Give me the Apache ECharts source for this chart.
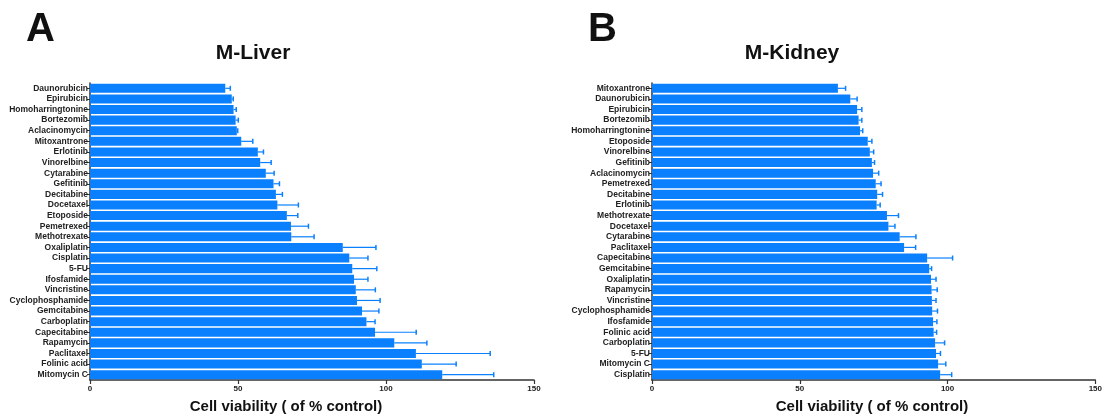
<!DOCTYPE html>
<html>
<head>
<meta charset="utf-8">
<script src="https://cdn.jsdelivr.net/npm/echarts@6/dist/echarts.min.js"></script>
<style>
  html, body { margin: 0; padding: 0; background: #fff; }
  #main { width: 1105px; height: 419px; }
</style>
</head>
<body>
<div id="main"></div>
<script>
// M-Liver (panel A), top to bottom
var liverNames = ['Daunorubicin', 'Epirubicin', 'Homoharringtonine', 'Bortezomib', 'Aclacinomycin',
  'Mitoxantrone', 'Erlotinib', 'Vinorelbine', 'Cytarabine', 'Gefitinib', 'Decitabine', 'Docetaxel',
  'Etoposide', 'Pemetrexed', 'Methotrexate', 'Oxaliplatin', 'Cisplatin', '5-FU', 'Ifosfamide',
  'Vincristine', 'Cyclophosphamide', 'Gemcitabine', 'Carboplatin', 'Capecitabine', 'Rapamycin',
  'Paclitaxel', 'Folinic acid', 'Mitomycin C'];
var liverMean = [45.7, 47.9, 48.5, 49.2, 49.6, 51.1, 56.7, 57.5, 59.4, 62.0, 62.8, 63.3,
  66.5, 67.9, 68.0, 85.4, 87.6, 88.6, 89.2, 89.8, 90.2, 91.9, 93.4, 96.3, 102.8,
  110.1, 112.1, 119.0];
var liverSd = [1.7, 0.5, 0.9, 0.9, 0.3, 3.9, 1.9, 3.7, 2.8, 2.0, 2.2, 7.1,
  3.7, 5.9, 7.7, 11.2, 6.3, 8.3, 4.7, 6.6, 7.8, 5.7, 2.9, 13.9, 11.0,
  25.1, 11.6, 17.4];

// M-Kidney (panel B), top to bottom
var kidneyNames = ['Mitoxantrone', 'Daunorubicin', 'Epirubicin', 'Bortezomib', 'Homoharringtonine',
  'Etoposide', 'Vinorelbine', 'Gefitinib', 'Aclacinomycin', 'Pemetrexed', 'Decitabine', 'Erlotinib',
  'Methotrexate', 'Docetaxel', 'Cytarabine', 'Paclitaxel', 'Capecitabine', 'Gemcitabine',
  'Oxaliplatin', 'Rapamycin', 'Vincristine', 'Cyclophosphamide', 'Ifosfamide', 'Folinic acid',
  'Carboplatin', '5-FU', 'Mitomycin C', 'Cisplatin'];
var kidneyMean = [62.9, 67.1, 69.4, 69.9, 70.4, 73.0, 73.7, 74.4, 74.8, 75.7, 76.2, 76.0,
  79.5, 80.0, 83.8, 85.3, 93.1, 93.8, 94.4, 94.6, 94.7, 94.8, 95.1, 95.3,
  95.8, 96.1, 96.8, 97.5];
var kidneySd = [2.6, 2.3, 1.6, 1.1, 0.9, 1.4, 1.3, 0.9, 1.9, 1.8, 1.8, 1.2,
  3.9, 2.2, 5.5, 3.9, 8.6, 0.8, 1.7, 1.9, 1.4, 1.8, 1.3, 1.0,
  3.2, 1.5, 2.6, 3.9];

var xTicks = [0, 50, 100, 150];
var barColor = '#0a80ff';
var fontFam = '"Liberation Sans", Arial, sans-serif';

function errData(mean, sd) {
  return mean.map(function (m, i) { return [m, i, m + sd[i]]; });
}

function renderErr(params, api) {
  var lo = api.coord([api.value(0), api.value(1)]);
  var hi = api.coord([api.value(2), api.value(1)]);
  var c = 2.5;
  return {
    type: 'group',
    children: [
      { type: 'line', shape: { x1: lo[0], y1: lo[1], x2: hi[0], y2: hi[1] },
        style: { stroke: barColor, lineWidth: 1.2 } },
      { type: 'line', shape: { x1: hi[0], y1: hi[1] - c, x2: hi[0], y2: hi[1] + c },
        style: { stroke: barColor, lineWidth: 1.5 } }
    ]
  };
}

function xAxisCfg(idx) {
  return {
    type: 'value', gridIndex: idx, min: 0, max: 150, interval: 50,
    splitLine: { show: false },
    axisLine: { show: true, lineStyle: { color: '#333', width: 1.5 } },
    axisTick: { show: true, length: 4, lineStyle: { color: '#333', width: 1.2 } },
    axisLabel: { color: '#222', fontSize: 8, fontWeight: 'bold', fontFamily: fontFam, margin: 5,
      formatter: function (v) { return xTicks.indexOf(v) >= 0 ? String(v) : ''; } }
  };
}

function yAxisCfg(idx, names) {
  return {
    type: 'category', gridIndex: idx, data: names, inverse: true,
    axisLine: { show: true, lineStyle: { color: '#333', width: 1.5 } },
    axisTick: { show: true, alignWithLabel: true, interval: 0, length: 3, lineStyle: { color: '#333', width: 1 } },
    axisLabel: { interval: 0, color: '#222', fontSize: 8.5, fontWeight: 'bold', fontFamily: fontFam, margin: 2 }
  };
}

var chart = echarts.init(document.getElementById('main'), null, { renderer: 'canvas' });
chart.setOption({
  animation: false,
  backgroundColor: '#fff',
  title: [
    { text: 'A', left: 21, top: 5, textStyle: { fontSize: 40, fontWeight: 'bold', color: '#111', fontFamily: fontFam } },
    { text: 'B', left: 583, top: 5, textStyle: { fontSize: 40, fontWeight: 'bold', color: '#111', fontFamily: fontFam } },
    { text: 'M-Liver', left: 248, top: 38, textAlign: 'center', textStyle: { fontSize: 21, fontWeight: 'bold', color: '#111', fontFamily: fontFam } },
    { text: 'M-Kidney', left: 787, top: 38, textAlign: 'center', textStyle: { fontSize: 21, fontWeight: 'bold', color: '#111', fontFamily: fontFam } },
    { text: 'Cell viability ( of % control)', left: 281, top: 394, textAlign: 'center', textStyle: { fontSize: 15, fontWeight: 'bold', color: '#111', fontFamily: fontFam } },
    { text: 'Cell viability ( of % control)', left: 867, top: 394, textAlign: 'center', textStyle: { fontSize: 15, fontWeight: 'bold', color: '#111', fontFamily: fontFam } }
  ],
  grid: [
    { left: 90, right: 571, top: 83, bottom: 39, containLabel: false },
    { left: 652, right: 8, top: 83, bottom: 39, containLabel: false }
  ],
  xAxis: [xAxisCfg(0), xAxisCfg(1)],
  yAxis: [yAxisCfg(0, liverNames), yAxisCfg(1, kidneyNames)],
  series: [
    { name: 'M-Liver', type: 'bar', xAxisIndex: 0, yAxisIndex: 0, data: liverMean,
      barCategoryGap: '15%', itemStyle: { color: barColor } },
    { name: 'M-Liver SD', type: 'custom', xAxisIndex: 0, yAxisIndex: 0,
      data: errData(liverMean, liverSd), encode: { x: [0, 2], y: 1 }, renderItem: renderErr, z: 3 },
    { name: 'M-Kidney', type: 'bar', xAxisIndex: 1, yAxisIndex: 1, data: kidneyMean,
      barCategoryGap: '15%', itemStyle: { color: barColor } },
    { name: 'M-Kidney SD', type: 'custom', xAxisIndex: 1, yAxisIndex: 1,
      data: errData(kidneyMean, kidneySd), encode: { x: [0, 2], y: 1 }, renderItem: renderErr, z: 3 }
  ]
});
</script>
</body>
</html>
